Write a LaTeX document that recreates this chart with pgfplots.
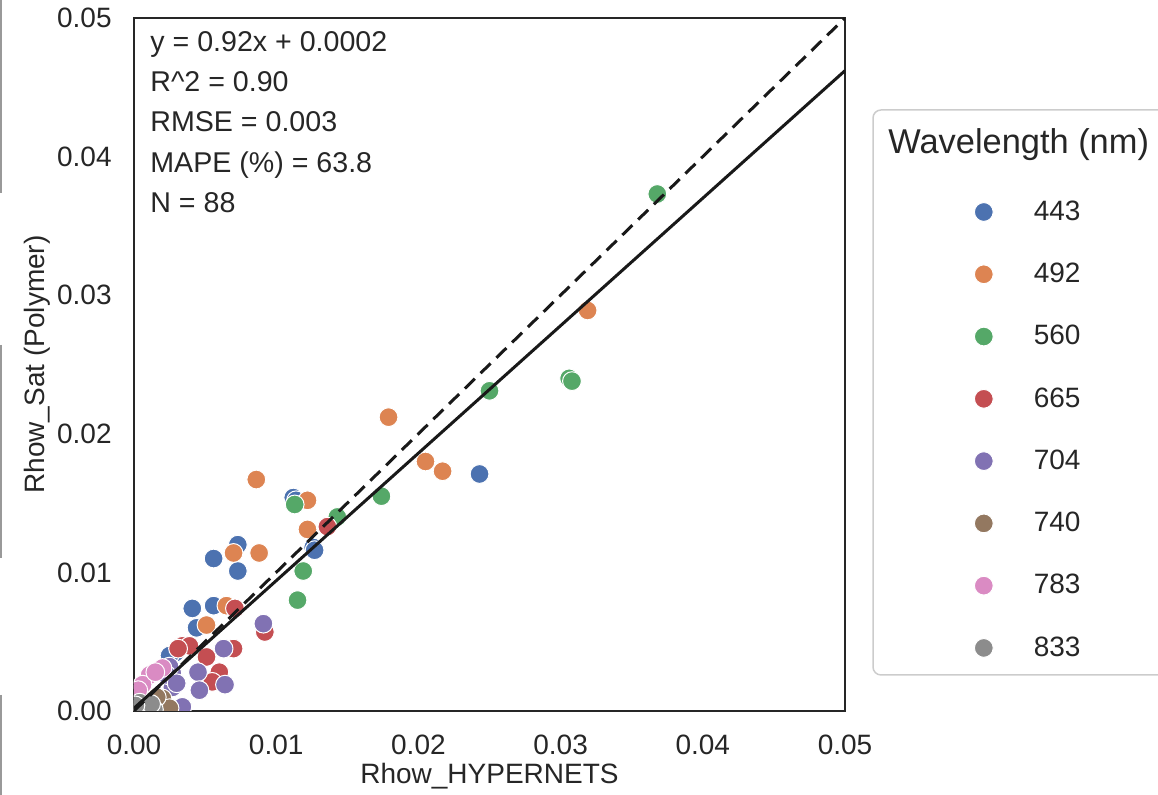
\documentclass[border=0pt]{standalone}
\usepackage{fontspec}
\setmainfont{Liberation Sans}
\usepackage{pgfplots}
\pgfplotsset{compat=1.18}
\definecolor{c443}{HTML}{4C72B0}
\definecolor{c492}{HTML}{DD8452}
\definecolor{c560}{HTML}{55A868}
\definecolor{c665}{HTML}{C44E52}
\definecolor{c704}{HTML}{8172B3}
\definecolor{c740}{HTML}{937860}
\definecolor{c783}{HTML}{DA8BC3}
\definecolor{c833}{HTML}{8C8C8C}
\definecolor{txt}{HTML}{262626}
\pgfplotsset{pt/.style={only marks, mark=*, mark size=4.7pt, color=#1, mark options={fill=#1, draw=white, line width=0.5pt}}}
\begin{document}
\begin{tikzpicture}
\path[use as bounding box] (-67pt,-42pt) rectangle (512pt,355.5pt);
\draw[black!40, line width=0.75pt] (-66.5pt,355.5pt) -- (-66.5pt,259pt);
\draw[black!40, line width=0.75pt] (-66.5pt,183pt) -- (-66.5pt,76.5pt);
\draw[black!40, line width=0.75pt] (-66.5pt,8pt) -- (-66.5pt,-42pt);
\begin{axis}[
  at={(0pt,0pt)}, anchor=south west,
  scale only axis, width=355.5pt, height=346.5pt,
  xmin=0, xmax=0.05, ymin=0, ymax=0.05,
  clip marker paths=true,
  xtick={0,0.01,0.02,0.03,0.04,0.05},
  xticklabels={0.00,0.01,0.02,0.03,0.04,0.05},
  ytick={0,0.01,0.02,0.03,0.04,0.05},
  yticklabels={0.00,0.01,0.02,0.03,0.04,0.05},
  scaled ticks=false,
  major tick length=0pt,
  axis line style={line width=1.4pt, color=txt},
  tick label style={font=\fontsize{14}{16}\selectfont, text=txt, inner sep=0pt},
  xticklabel style={anchor=north, yshift=-12pt},
  yticklabel style={anchor=east, xshift=-11pt},
  xlabel={Rhow\textunderscore HYPERNETS},
  ylabel={Rhow\textunderscore Sat (Polymer)},
  label style={font=\fontsize{14}{16}\selectfont, text=txt},
  xlabel style={at={(axis description cs:0.5,-0.0938)}, anchor=center},
  ylabel style={at={(axis description cs:-0.1364,0.5)}, anchor=center},
  legend cell align=left,
  legend image code/.code={\draw[#1] plot coordinates {(0pt,0pt)};},
  legend style={at={(1.1820,0.7650)}, anchor=north west, draw=none, fill=none,
    inner sep=0pt, outer sep=0pt, column sep=20.3pt, row sep=0pt,
    font=\fontsize{14}{16}\selectfont, text=txt,
    nodes={inner sep=0pt, minimum height=31.14pt}},
]
\addplot[pt=c443] coordinates {
(0.0243,0.0171) (0.0112,0.0154) (0.0114,0.0152) (0.0126,0.0118) (0.0127,0.0116)
(0.0073,0.0120) (0.0056,0.0110) (0.0073,0.0101) (0.0041,0.0074) (0.0056,0.0076)
(0.0044,0.0060) (0.0029,0.0042) (0.0025,0.0040)};
\addlegendentry{443}
\addplot[pt=c492] coordinates {
(0.0319,0.0289) (0.0179,0.0212) (0.0205,0.0180) (0.0217,0.0173) (0.0086,0.0167)
(0.0122,0.0152) (0.0122,0.0131) (0.0070,0.0114) (0.0088,0.0114) (0.0065,0.0076)
(0.0051,0.0062)};
\addlegendentry{492}
\addplot[pt=c560] coordinates {
(0.0368,0.0373) (0.0250,0.0231) (0.0306,0.0240) (0.0308,0.0238) (0.0174,0.0155)
(0.0113,0.0149) (0.0143,0.0140) (0.0119,0.0101) (0.0115,0.0080)};
\addlegendentry{560}
\addplot[pt=c665] coordinates {
(0.0136,0.0133) (0.0071,0.0074) (0.0034,0.0047) (0.0039,0.0047) (0.0051,0.0039)
(0.0070,0.0045) (0.0060,0.0028) (0.0055,0.0021) (0.0092,0.0057) (0.0031,0.0045)};
\addlegendentry{665}
\addplot[pt=c704] coordinates {
(0.0091,0.0063) (0.0063,0.0045) (0.0045,0.0028) (0.0046,0.0015) (0.0064,0.0019)
(0.0027,0.0027) (0.0034,0.0003) (0.0027,0.0017) (0.0025,0.0032) (0.0023,0.0026)
(0.0030,0.0020)};
\addlegendentry{704}
\addplot[pt=c740] coordinates {
(0.0018,0.0006) (0.0022,0.0004) (0.0020,0.0009) (0.0015,0.0003) (0.0012,0.0007)
(0.0025,0.0002) (0.0009,0.0004) (0.0016,0.0010) (0.0006,0.0002) (0.0011,0.0001)};
\addlegendentry{740}
\addplot[pt=c783] coordinates {
(0.0011,0.0026) (0.0006,0.0019) (0.0020,0.0031) (0.0015,0.0028) (0.0003,0.0015)};
\addlegendentry{783}
\addplot[pt=c833] coordinates {
(0.0003,0.0002) (0.0006,0.0004) (0.0010,0.0003) (0.0014,0.0001) (0.0004,0.0006)
(0.0008,0.0001) (0.0002,0.0001) (0.0012,0.0005) (0.0001,0.0004)};
\addlegendentry{833}
\addplot[forget plot, black!90, line width=1.5pt, dash pattern=on 7pt off 4pt] coordinates {(0,0) (0.05,0.05)};
\addplot[forget plot, black!90, line width=1.5pt] coordinates {(0,0.0002) (0.05,0.0462)};
\node[anchor=north west, align=left, inner sep=0pt, font=\fontsize{14.3}{20.15}\selectfont, text=txt]
  at (rel axis cs:0.0225,0.9812)
  {y = 0.92x + 0.0002\\R\textasciicircum 2 = 0.90\\RMSE = 0.003\\MAPE (\%) = 63.8\\N = 88};
\end{axis}
\draw[black!20, line width=0.75pt, rounded corners=4pt] (369.5pt,18pt) rectangle (530pt,300.5pt);
\node[anchor=west, inner sep=0pt, font=\fontsize{17.2}{20}\selectfont, text=txt] at (377pt,283pt) {Wavelength (nm)};
\end{tikzpicture}
\end{document}
